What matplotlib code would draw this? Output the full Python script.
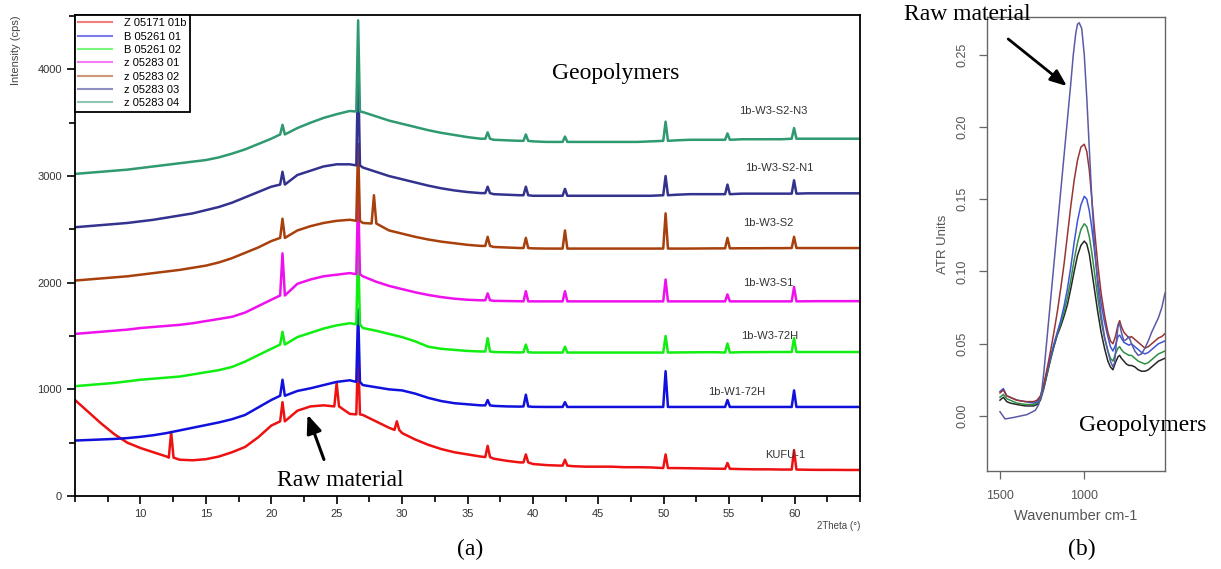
import matplotlib
matplotlib.use("Agg")
import matplotlib.pyplot as plt
from matplotlib import font_manager
from matplotlib.ticker import MultipleLocator

# ---------------- XRD data (panel a) ----------------
two_theta_grid = list(range(5, 66))

legend_labels = ["Z 05171 01b", "B 05261 01", "B 05261 02", "z 05283 01",
                 "z 05283 02", "z 05283 03", "z 05283 04"]
sample_names = ["KUFU-1", "1b-W1-72H", "1b-W3-72H", "1b-W3-S1",
                "1b-W3-S2", "1b-W3-S2-N1", "1b-W3-S2-N3"]
xrd_colors = ["#ee1111", "#1111dd", "#11ee11", "#ee11ee",
              "#a8400c", "#33338f", "#2f9a70"]

red_base = [900, 790, 680, 580, 500, 450, 410, 370, 340, 335, 345,
            370, 410, 460, 550, 660, 740, 800, 840, 850, 840, 770,
            760, 700, 640, 590, 530, 480, 440, 410, 390, 370, 350,
            330, 315, 300, 290, 285, 280, 275, 275, 275, 270, 270,
            268, 265, 262, 260, 258, 256, 255, 252, 250, 250, 248,
            248, 246, 245, 245, 244, 244]
blue_base = [520, 525, 530, 535, 543, 555, 570, 590, 615, 640, 665,
             690, 720, 760, 830, 900, 960, 985, 1010, 1040, 1070, 1085,
             1040, 1020, 1000, 990, 960, 920, 890, 870, 860, 850, 845,
             840, 838, 836, 835, 835, 835, 835, 835, 835, 835, 835,
             835, 835, 835, 835, 835, 835, 835, 835, 835, 835, 835,
             835, 835, 835, 835, 835, 835]
green_base = [1030, 1040, 1050, 1060, 1075, 1090, 1100, 1110, 1120, 1140, 1160,
              1180, 1210, 1260, 1320, 1380, 1440, 1490, 1530, 1570, 1600, 1620,
              1575, 1550, 1520, 1490, 1450, 1400, 1380, 1370, 1360, 1355, 1350,
              1348, 1346, 1345, 1345, 1345, 1345, 1345, 1345, 1345, 1345, 1345,
              1345, 1345, 1346, 1347, 1348, 1348, 1348, 1349, 1349, 1350, 1350,
              1350, 1350, 1350, 1350, 1350, 1350]
magenta_base = [1520, 1530, 1540, 1550, 1560, 1575, 1585, 1595, 1605, 1620, 1640,
                1660, 1680, 1720, 1780, 1840, 1930, 1990, 2030, 2060, 2075, 2090,
                2060, 2010, 1970, 1940, 1910, 1885, 1865, 1850, 1840, 1835, 1830,
                1828, 1826, 1825, 1825, 1825, 1825, 1825, 1825, 1825, 1825, 1825,
                1825, 1825, 1825, 1825, 1825, 1825, 1825, 1825, 1825, 1825, 1825,
                1826, 1826, 1827, 1827, 1827, 1827]
brown_base = [2020, 2030, 2040, 2050, 2060, 2075, 2090, 2105, 2120, 2140, 2160,
              2190, 2230, 2280, 2330, 2390, 2440, 2490, 2530, 2560, 2580, 2590,
              2560, 2530, 2490, 2460, 2430, 2405, 2385, 2370, 2355, 2345, 2335,
              2330, 2325, 2322, 2320, 2320, 2320, 2320, 2320, 2320, 2320, 2320,
              2320, 2320, 2320, 2320, 2321, 2322, 2322, 2323, 2323, 2324, 2324,
              2325, 2325, 2325, 2325, 2325, 2325]
navy_base = [2520, 2530, 2540, 2550, 2560, 2575, 2590, 2610, 2630, 2650, 2680,
             2710, 2750, 2800, 2850, 2900, 2950, 3010, 3050, 3090, 3110, 3110,
             3080, 3040, 3000, 2970, 2940, 2910, 2885, 2865, 2850, 2840, 2830,
             2825, 2820, 2815, 2815, 2815, 2815, 2815, 2815, 2815, 2815, 2815,
             2815, 2820, 2825, 2830, 2830, 2830, 2830, 2835, 2835, 2835, 2835,
             2835, 2838, 2838, 2838, 2838, 2838]
teal_base = [3020, 3030, 3040, 3050, 3060, 3075, 3090, 3105, 3120, 3135, 3150,
             3175, 3210, 3250, 3300, 3350, 3400, 3450, 3500, 3545, 3580, 3610,
             3600, 3560, 3520, 3490, 3460, 3430, 3405, 3385, 3365, 3350, 3340,
             3335, 3330, 3325, 3320, 3320, 3320, 3320, 3320, 3320, 3320, 3320,
             3325, 3330, 3335, 3340, 3340, 3340, 3340, 3345, 3345, 3345, 3345,
             3350, 3350, 3350, 3350, 3350, 3350]

# peaks: (2theta, local baseline, peak top)
red_peaks = [(12.35, 360, 600), (20.86, 700, 880), (25.0, 840, 1060),
             (26.64, 765, 1370), (29.6, 620, 700), (36.54, 365, 470),
             (39.46, 315, 390), (42.45, 285, 340), (50.14, 262, 390),
             (54.87, 255, 310), (59.96, 248, 430)]
blue_peaks = [(20.86, 940, 1090), (26.64, 1070, 1750), (36.54, 850, 900),
              (39.46, 840, 950), (42.45, 835, 880), (50.14, 835, 1170),
              (54.87, 835, 900), (59.96, 835, 990)]
green_peaks = [(20.86, 1420, 1540), (26.64, 1610, 2350), (36.54, 1355, 1480),
               (39.46, 1348, 1420), (42.45, 1345, 1400), (50.14, 1345, 1500),
               (54.87, 1345, 1430), (59.96, 1350, 1480)]
magenta_peaks = [(20.86, 1880, 2275), (26.64, 2080, 2850), (36.54, 1835, 1900),
                 (39.46, 1825, 1920), (42.45, 1825, 1920), (50.14, 1825, 2030),
                 (54.87, 1825, 1890), (59.96, 1825, 1960)]
brown_peaks = [(20.86, 2420, 2600), (26.64, 2580, 3300), (27.85, 2555, 2820),
               (36.54, 2345, 2430), (39.46, 2325, 2420), (42.45, 2320, 2490),
               (50.14, 2320, 2650), (54.87, 2322, 2420), (59.96, 2325, 2430)]
navy_peaks = [(20.86, 2920, 3040), (26.64, 3100, 4040), (36.54, 2840, 2900),
              (39.46, 2820, 2900), (42.45, 2815, 2880), (50.14, 2820, 3000),
              (54.87, 2830, 2920), (59.96, 2835, 2960)]
teal_peaks = [(20.86, 3390, 3480), (26.64, 3605, 4460), (36.54, 3350, 3410),
              (39.46, 3330, 3390), (42.45, 3320, 3370), (50.14, 3330, 3510),
              (54.87, 3340, 3400), (59.96, 3350, 3450)]

# label positions (2theta, intensity) for sample names
label_x = [59.3, 55.6, 58.1, 58.0, 58.0, 58.8, 58.4]
label_y = [384, 977, 1499, 1995, 2557, 3073, 3607]

# ---------------- FTIR data (panel b) ----------------
wn_raw = [1500, 1470, 1420, 1340, 1290, 1270, 1255, 1240, 1220, 1200, 1180,
          1160, 1140, 1120, 1100, 1080, 1065, 1050, 1040, 1030, 1015, 1000,
          985, 970, 955, 940, 920, 900, 880, 860, 845, 830, 820, 810, 800,
          790, 780, 765, 750, 735, 720, 700, 680, 660, 640, 620, 600, 580,
          560, 540, 521]
atr_raw = [0.003, -0.002, -0.001, 0.001, 0.004, 0.008, 0.015, 0.030, 0.055,
           0.080, 0.105, 0.130, 0.155, 0.180, 0.205, 0.230, 0.250, 0.265,
           0.271, 0.272, 0.268, 0.250, 0.220, 0.185, 0.150, 0.120, 0.090,
           0.070, 0.055, 0.045, 0.038, 0.034, 0.037, 0.050, 0.062, 0.064,
           0.058, 0.052, 0.053, 0.055, 0.050, 0.045, 0.042, 0.043, 0.047,
           0.052, 0.058, 0.063, 0.068, 0.075, 0.085]

wn_geo = [1500, 1480, 1460, 1440, 1400, 1350, 1300, 1280, 1260, 1240, 1220,
          1200, 1180, 1160, 1140, 1120, 1100, 1080, 1060, 1040, 1020, 1000,
          985, 970, 955, 940, 920, 900, 880, 860, 845, 830, 815, 800, 790,
          780, 765, 750, 735, 720, 700, 680, 660, 640, 620, 600, 580, 560,
          540, 521]
atr_brown = [0.016, 0.018, 0.014, 0.013, 0.011, 0.010, 0.010, 0.011, 0.014,
             0.022, 0.033, 0.045, 0.058, 0.072, 0.088, 0.105, 0.125, 0.145,
             0.163, 0.177, 0.186, 0.188, 0.183, 0.170, 0.150, 0.130, 0.105,
             0.085, 0.070, 0.058, 0.052, 0.050, 0.055, 0.063, 0.066, 0.062,
             0.058, 0.056, 0.054, 0.055, 0.053, 0.051, 0.049, 0.047, 0.048,
             0.050, 0.052, 0.054, 0.055, 0.057]
atr_blue = [0.017, 0.019, 0.014, 0.013, 0.011, 0.010, 0.009, 0.010, 0.013,
            0.021, 0.031, 0.041, 0.050, 0.058, 0.066, 0.076, 0.088, 0.103,
            0.120, 0.135, 0.146, 0.152, 0.150, 0.142, 0.130, 0.115, 0.095,
            0.078, 0.065, 0.055, 0.048, 0.045, 0.049, 0.055, 0.056, 0.054,
            0.051, 0.050, 0.049, 0.050, 0.048, 0.046, 0.044, 0.043, 0.044,
            0.046, 0.048, 0.050, 0.051, 0.052]
atr_green = [0.013, 0.015, 0.012, 0.011, 0.009, 0.008, 0.008, 0.009, 0.012,
             0.020, 0.030, 0.040, 0.049, 0.057, 0.064, 0.072, 0.082, 0.094,
             0.108, 0.120, 0.129, 0.133, 0.131, 0.124, 0.113, 0.100, 0.082,
             0.066, 0.054, 0.045, 0.040, 0.038, 0.043, 0.047, 0.048, 0.046,
             0.044, 0.043, 0.042, 0.042, 0.040, 0.038, 0.037, 0.036, 0.037,
             0.039, 0.041, 0.043, 0.044, 0.045]
atr_black = [0.011, 0.013, 0.010, 0.009, 0.008, 0.007, 0.007, 0.008, 0.011,
             0.019, 0.029, 0.039, 0.048, 0.056, 0.062, 0.069, 0.077, 0.088,
             0.100, 0.111, 0.118, 0.121, 0.119, 0.112, 0.100, 0.088, 0.072,
             0.058, 0.047, 0.038, 0.034, 0.032, 0.037, 0.041, 0.042, 0.040,
             0.038, 0.036, 0.035, 0.035, 0.034, 0.032, 0.031, 0.031, 0.032,
             0.034, 0.036, 0.038, 0.039, 0.040]
ftir_colors = {"raw": "#5a5aa8", "brown": "#9a3434", "blue": "#3f55d6",
               "green": "#2f8f45", "black": "#262626"}

# ---------------- fonts ----------------
names = {f.name for f in font_manager.fontManager.ttflist}
narrow = "Liberation Sans Narrow" if "Liberation Sans Narrow" in names else "Liberation Sans"
serif = "Liberation Serif"
plt.rcParams["font.family"] = ["Liberation Sans", "DejaVu Sans"]


def build_series(base, peaks, half=0.18):
    pts = []
    for xg, yg in zip(two_theta_grid, base):
        if all(abs(xg - c) > half + 0.05 for c, _, _ in peaks):
            pts.append((xg, yg))
    for c, b, t in peaks:
        h = 0.14 if abs(c - 26.64) < 0.01 else half
        pts += [(c - h, b), (c, t), (c + h, b)]
    pts.sort()
    return [p[0] for p in pts], [p[1] for p in pts]


W, H = 1221, 569
fig = plt.figure(figsize=(W / 100, H / 100), dpi=100)

# ---------------- panel a ----------------
ax = fig.add_axes([75 / W, 1 - 496 / H, 785 / W, 481 / H])
bases = [red_base, blue_base, green_base, magenta_base, brown_base, navy_base, teal_base]
peaks = [red_peaks, blue_peaks, green_peaks, magenta_peaks, brown_peaks, navy_peaks, teal_peaks]
for base, pk, col, lab in zip(bases, peaks, xrd_colors, legend_labels):
    xs, ys = build_series(base, pk)
    ax.plot(xs, ys, color=col, lw=1.8, label=lab)

ax.set_xlim(5, 65)
ax.set_ylim(0, 4510)
ax.xaxis.set_major_locator(MultipleLocator(5))
ax.xaxis.set_minor_locator(MultipleLocator(2.5))
ax.yaxis.set_major_locator(MultipleLocator(1000))
ax.yaxis.set_minor_locator(MultipleLocator(500))
ax.set_xticks([10, 15, 20, 25, 30, 35, 40, 45, 50, 55, 60])
ax.tick_params(which="major", direction="out", length=6, width=1.2,
               labelsize=8, labelcolor="#333333")
ax.tick_params(which="minor", direction="out", length=4, width=1.2)
for lbl in ax.get_xticklabels() + ax.get_yticklabels():
    lbl.set_fontfamily(narrow)
for s in ax.spines.values():
    s.set_linewidth(1.3)
ax.set_ylabel("Intensity (cps)", loc="top", fontsize=8, color="#444444",
              fontfamily=narrow, labelpad=12)
ax.set_xlabel("2Theta (°)", loc="right", fontsize=7, color="#444444",
              fontfamily=narrow, labelpad=1)

leg = ax.legend(loc="upper left", bbox_to_anchor=(0, 1), borderaxespad=0,
                frameon=True, fancybox=False, edgecolor="black", framealpha=1,
                prop={"family": narrow, "size": 8}, handlelength=3.0,
                handletextpad=1.1, labelspacing=0.3, borderpad=0.3)
leg.get_frame().set_linewidth(1.3)
for line in leg.get_lines():
    line.set_alpha(0.55)
    line.set_linewidth(1.5)

for n, lx, ly in zip(sample_names, label_x, label_y):
    ax.text(lx, ly, n, fontsize=8, color="#333333", ha="center", va="center")

ax.text(46.3, 3963, "Geopolymers", fontsize=17, fontfamily=serif,
        ha="center", va="center")
ax.text(25.3, 150, "Raw material", fontsize=17, fontfamily=serif,
        ha="center", va="center")
ax.annotate("", xy=(22.7, 787), xytext=(24.1, 318),
            arrowprops=dict(arrowstyle="-|>,head_length=1.1,head_width=0.45",
                            color="black", lw=2.2))

# ---------------- panel b ----------------
bx = fig.add_axes([987 / W, 1 - 471 / H, 178 / W, 454 / H])
bx.plot(wn_geo, atr_black, color=ftir_colors["black"], lw=1.1)
bx.plot(wn_geo, atr_green, color=ftir_colors["green"], lw=1.1)
bx.plot(wn_geo, atr_blue, color=ftir_colors["blue"], lw=1.1)
bx.plot(wn_geo, atr_brown, color=ftir_colors["brown"], lw=1.1)
bx.plot(wn_raw, atr_raw, color=ftir_colors["raw"], lw=1.1)
bx.set_xlim(1577, 521)
bx.set_ylim(-0.038, 0.276)
bx.set_xticks([1500, 1000])
bx.set_yticks([0.00, 0.05, 0.10, 0.15, 0.20, 0.25])
bx.set_yticklabels(["0.00", "0.05", "0.10", "0.15", "0.20", "0.25"],
                   rotation=90, va="center")
bx.tick_params(direction="out", length=6, width=0.9, color="#666666",
               labelsize=9, labelcolor="#555555")
bx.tick_params(axis="x", pad=8)
bx.tick_params(axis="y", pad=7)
for s in bx.spines.values():
    s.set_color("#666666")
    s.set_linewidth(1.0)
bx.set_ylabel("ATR Units", fontsize=9.5, color="#555555", labelpad=6)
bx.set_xlabel("Wavenumber cm-1", fontsize=10.5, color="#555555", labelpad=5)
bx.annotate("", xy=(1090, 0.227), xytext=(1464, 0.262),
            arrowprops=dict(arrowstyle="-|>,head_length=1.0,head_width=0.4",
                            color="black", lw=2.0), annotation_clip=False)

fig.text(967 / W, 1 - 15 / H, "Raw material", fontsize=17, fontfamily=serif,
         ha="center", va="center")
fig.text(1143 / W, 1 - 425 / H, "Geopolymers", fontsize=17, fontfamily=serif,
         ha="center", va="center")
fig.text(470 / W, 1 - 549 / H, "(a)", fontsize=17, fontfamily=serif,
         ha="center", va="center")
fig.text(1082 / W, 1 - 549 / H, "(b)", fontsize=17, fontfamily=serif,
         ha="center", va="center")

fig.savefig("out.png", dpi=100)
